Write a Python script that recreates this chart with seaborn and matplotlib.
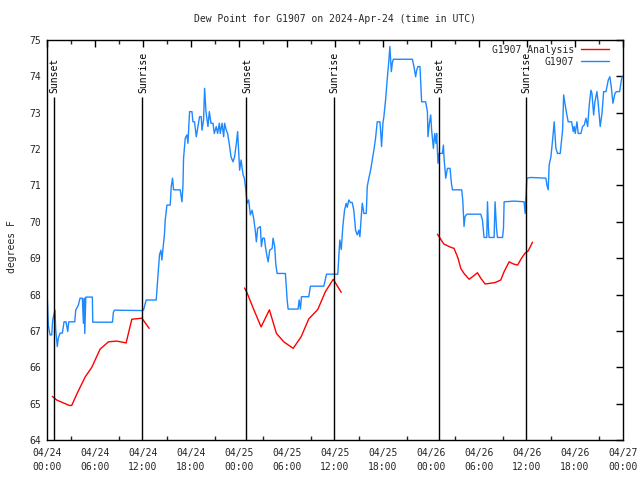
import matplotlib
matplotlib.use("Agg")
import matplotlib.pyplot as plt
from matplotlib.lines import Line2D
from matplotlib.ticker import MultipleLocator
import seaborn as sns
import pandas as pd

# ---------------- data ----------------
title = "Dew Point for G1907 on 2024-Apr-24 (time in UTC)"
y_label = "degrees F"
x_tick_hours = [0, 6, 12, 18, 24, 30, 36, 42, 48, 54, 60, 66, 72]
x_tick_labels = ["04/24\n00:00", "04/24\n06:00", "04/24\n12:00", "04/24\n18:00",
                 "04/25\n00:00", "04/25\n06:00", "04/25\n12:00", "04/25\n18:00",
                 "04/26\n00:00", "04/26\n06:00", "04/26\n12:00", "04/26\n18:00",
                 "04/27\n00:00"]
y_ticks = [64, 65, 66, 67, 68, 69, 70, 71, 72, 73, 74, 75]

# observed series (hours since 04/24 00:00 UTC)
obs_hours = [
    0.04, 0.16, 0.38, 0.59, 0.71, 1.00, 1.09, 1.29, 1.41, 1.63,
    1.92, 2.13, 2.38, 2.59, 2.72, 3.47, 3.59, 3.92, 4.13, 4.42,
    4.55, 4.67, 4.72, 4.85, 5.67, 5.72, 8.18, 8.30, 8.43, 11.86,
    12.06, 12.40, 13.65, 13.81, 13.94, 14.06, 14.24, 14.36, 14.56, 14.69,
    14.78, 14.99, 15.40, 15.53, 15.69, 15.82, 16.65, 16.87, 16.99, 17.07,
    17.28, 17.49, 17.62, 17.82, 18.12, 18.24, 18.44, 18.66, 18.87, 19.07,
    19.28, 19.37, 19.57, 19.70, 19.87, 20.12, 20.29, 20.50, 20.75, 20.91,
    21.16, 21.32, 21.54, 21.66, 21.88, 22.08, 22.20, 22.41, 22.58, 22.83,
    23.00, 23.25, 23.45, 23.67, 23.83, 23.95, 24.08, 24.26, 24.51, 24.67,
    24.83, 25.01, 25.21, 25.42, 25.63, 25.83, 26.05, 26.17, 26.33, 26.67,
    26.80, 26.96, 27.17, 27.30, 27.51, 27.64, 27.84, 28.14, 28.26, 28.46,
    28.59, 28.76, 29.80, 30.02, 30.14, 31.39, 31.52, 31.68, 31.81, 32.72,
    32.93, 34.60, 34.94, 36.35, 36.48, 36.60, 36.78, 36.98, 37.19, 37.40,
    37.53, 37.73, 37.94, 38.15, 38.35, 38.57, 38.78, 38.98, 39.11, 39.28,
    39.41, 39.61, 39.91, 40.03, 40.23, 40.45, 40.66, 40.86, 41.07, 41.28,
    41.61, 41.70, 41.82, 41.99, 42.11, 42.32, 42.54, 42.74, 42.86, 43.04,
    43.16, 43.29, 45.67, 45.87, 46.08, 46.21, 46.37, 46.62, 46.71, 46.83,
    47.33, 47.55, 47.62, 47.80, 47.96, 48.08, 48.30, 48.46, 48.62, 48.71,
    48.87, 49.00, 49.42, 49.55, 49.63, 49.84, 50.05, 50.38, 50.55, 50.68,
    51.84, 51.97, 52.13, 52.25, 52.47, 54.22, 54.43, 54.63, 54.97, 55.06,
    55.18, 55.26, 55.89, 56.01, 56.19, 56.31, 56.94, 57.06, 57.14, 58.39,
    59.64, 59.77, 59.98, 60.48, 62.36, 62.49, 62.65, 62.77, 62.99, 63.20,
    63.40, 63.61, 63.82, 64.15, 64.33, 64.45, 64.58, 64.74, 64.95, 65.15,
    65.58, 65.78, 65.90, 66.03, 66.24, 66.40, 66.74, 66.95, 67.15, 67.37,
    67.58, 67.78, 67.99, 68.12, 68.33, 68.49, 68.74, 68.90, 69.15, 69.37,
    69.58, 69.87, 70.16, 70.36, 70.53, 70.74, 70.99, 71.17, 71.58, 71.76,
    71.90]
obs_values = [
    67.88, 67.16, 66.89, 66.89, 67.30, 67.57, 67.02, 66.57, 66.80, 66.94,
    66.94, 67.25, 67.25, 66.98, 67.25, 67.25, 67.57, 67.71, 67.90, 67.90,
    67.21, 67.90, 66.93, 67.93, 67.93, 67.24, 67.24, 67.51, 67.57, 67.56,
    67.57, 67.85, 67.85, 68.35, 68.72, 69.09, 69.22, 68.95, 69.41, 69.68,
    70.05, 70.46, 70.46, 70.97, 71.20, 70.88, 70.88, 70.55, 70.97, 71.75,
    72.30, 72.39, 72.16, 73.03, 73.03, 72.75, 72.75, 72.34, 72.62, 72.89,
    72.89, 72.52, 72.80, 73.67, 73.03, 72.62, 73.03, 72.71, 72.71, 72.43,
    72.62, 72.43, 72.71, 72.43, 72.71, 72.34, 72.71, 72.52, 72.43, 72.07,
    71.79, 71.65, 71.79, 72.16, 72.48, 71.97, 71.42, 71.70, 71.29, 71.20,
    70.92, 70.51, 70.60, 70.19, 70.32, 70.10, 69.73, 69.45, 69.82, 69.87,
    69.32, 69.55, 69.55, 69.32, 69.04, 68.90, 69.22, 69.27, 69.55, 69.32,
    68.86, 68.58, 68.58, 67.85, 67.60, 67.60, 67.85, 67.60, 67.94, 67.94,
    68.23, 68.23, 68.56, 68.56, 69.04, 69.50, 69.24, 69.87, 70.32, 70.51,
    70.40, 70.60, 70.53, 70.53, 70.32, 69.77, 69.64, 69.77, 69.59, 70.14,
    70.51, 70.23, 70.23, 70.97, 71.20, 71.42, 71.70, 71.97, 72.30, 72.75,
    72.75, 72.52, 72.07, 72.71, 72.89, 73.35, 73.95, 74.45, 74.82, 74.13,
    74.36, 74.47, 74.47, 74.27, 73.99, 74.17, 74.27, 74.27, 73.85, 73.30,
    73.30, 73.03, 72.34, 72.71, 72.94, 72.52, 72.02, 72.43, 72.16, 72.43,
    71.61, 71.88, 71.88, 72.11, 71.75, 71.20, 71.47, 71.47, 71.06, 70.88,
    70.88, 70.60, 69.87, 70.14, 70.21, 70.21, 70.05, 69.57, 69.57, 70.55,
    69.82, 69.57, 69.57, 70.55, 69.82, 69.57, 69.57, 69.82, 70.55, 70.57,
    70.55, 70.23, 71.20, 71.22, 71.20, 71.01, 70.88, 71.56, 71.79, 72.25,
    72.75, 72.02, 71.88, 71.88, 72.25, 72.52, 73.49, 73.26, 72.98, 72.75,
    72.75, 72.48, 72.62, 72.43, 72.75, 72.43, 72.43, 72.62, 72.66, 72.85,
    72.62, 73.21, 73.62, 73.53, 72.94, 73.30, 73.58, 73.26, 72.62, 72.98,
    73.58, 73.58, 73.90, 73.99, 73.72, 73.26, 73.53, 73.58, 73.58, 73.85,
    74.00]

# analysis series, three night-time segments
ana1_hours = [0.66, 1.21, 2.05, 2.80, 3.09, 3.72, 4.76, 5.60, 6.64, 7.68,
              8.72, 9.89, 10.60, 11.86, 12.77]
ana1_values = [65.20, 65.10, 65.02, 64.95, 64.95, 65.26, 65.73, 66.00, 66.50, 66.70,
               66.72, 66.67, 67.32, 67.35, 67.07]
ana2_hours = [24.70, 25.00, 25.75, 26.76, 27.80, 28.68, 29.60, 30.77, 31.77, 32.72,
              33.85, 34.80, 35.78, 36.78]
ana2_values = [68.18, 68.05, 67.64, 67.11, 67.58, 66.93, 66.70, 66.52, 66.84, 67.33,
               67.59, 68.08, 68.42, 68.06]
ana3_hours = [48.80, 49.60, 50.46, 50.88, 51.38, 51.72, 52.13, 52.76, 53.31, 53.81,
              54.22, 54.76, 55.39, 56.01, 56.72, 57.14, 57.77, 58.31, 58.82, 59.32,
              59.73, 60.15, 60.69]
ana3_values = [69.66, 69.39, 69.30, 69.27, 69.00, 68.72, 68.58, 68.42, 68.51, 68.60,
               68.45, 68.29, 68.31, 68.33, 68.40, 68.63, 68.90, 68.84, 68.81, 69.00,
               69.13, 69.20, 69.44]

sun_hours = [0.88, 11.90, 24.92, 35.85, 48.96, 59.85]
sun_labels = ["Sunset", "Sunrise", "Sunset", "Sunrise", "Sunset", "Sunrise"]

series_labels = ["G1907 Analysis", "G1907"]
series_colors = ["#ff0000", "#1e88ff"]

# ---------------- build tables ----------------
obs_df = pd.DataFrame({"hour": obs_hours, "value": obs_values})
ana_df = pd.concat([
    pd.DataFrame({"hour": ana1_hours, "value": ana1_values, "seg": 1}),
    pd.DataFrame({"hour": ana2_hours, "value": ana2_values, "seg": 2}),
    pd.DataFrame({"hour": ana3_hours, "value": ana3_values, "seg": 3}),
], ignore_index=True)

# ---------------- style ----------------
sns.set_style("white")
plt.rcParams["font.family"] = ["DejaVu Sans Mono"]
plt.rcParams["font.size"] = 7

fig = plt.figure(figsize=(6.4, 4.8), dpi=100)
ax = fig.add_axes([47 / 640, 40 / 480, 576 / 640, 400 / 480])

sns.lineplot(data=ana_df, x="hour", y="value", units="seg", estimator=None,
             sort=False, color=series_colors[0], lw=1, ax=ax)
sns.lineplot(data=obs_df, x="hour", y="value", estimator=None, sort=False,
             color=series_colors[1], lw=1, ax=ax)

ax.set_xlim(0, 72)
ax.set_ylim(64, 75)

# sunrise / sunset markers
ax.vlines(sun_hours, 64, 73.43, color="black", lw=1)
for h, lab in zip(sun_hours, sun_labels):
    ax.text(h + 0.1, 73.55, lab, rotation=90, ha="center", va="bottom",
            fontsize=7, color="black")

ax.set_xticks(x_tick_hours)
ax.set_xticklabels(x_tick_labels)
for lbl in ax.get_xticklabels():
    lbl.set_linespacing(1.45)
ax.xaxis.set_minor_locator(MultipleLocator(3))
ax.set_yticks(y_ticks)
ax.set_yticklabels([str(v) for v in y_ticks])

ax.tick_params(which="major", direction="in", length=5, width=1,
               top=True, right=True, labelsize=7, color="black")
ax.tick_params(axis="x", which="major", pad=6)
ax.tick_params(axis="y", which="major", pad=4)
ax.tick_params(which="minor", direction="in", length=3, width=1,
               top=True, right=False, bottom=True)
for sp in ax.spines.values():
    sp.set_color("black")
    sp.set_linewidth(1)

ax.set_xlabel("")
ax.set_ylabel("")
fig.text(12 / 640, 1 - 247 / 480, y_label, rotation=90, ha="center", va="center",
         fontsize=7)
fig.text(335 / 640, 1 - 19 / 480, title, ha="center", va="center", fontsize=7)

handles = [Line2D([], [], color=c, lw=1) for c in series_colors]
ax.legend(handles, series_labels, loc="upper right", bbox_to_anchor=(0.976, 0.988),
          frameon=False, markerfirst=False, handlelength=2.9, handletextpad=0.7,
          labelspacing=0.18, borderpad=0, borderaxespad=0, fontsize=7)

fig.savefig("out.png", dpi=100, facecolor="white")
